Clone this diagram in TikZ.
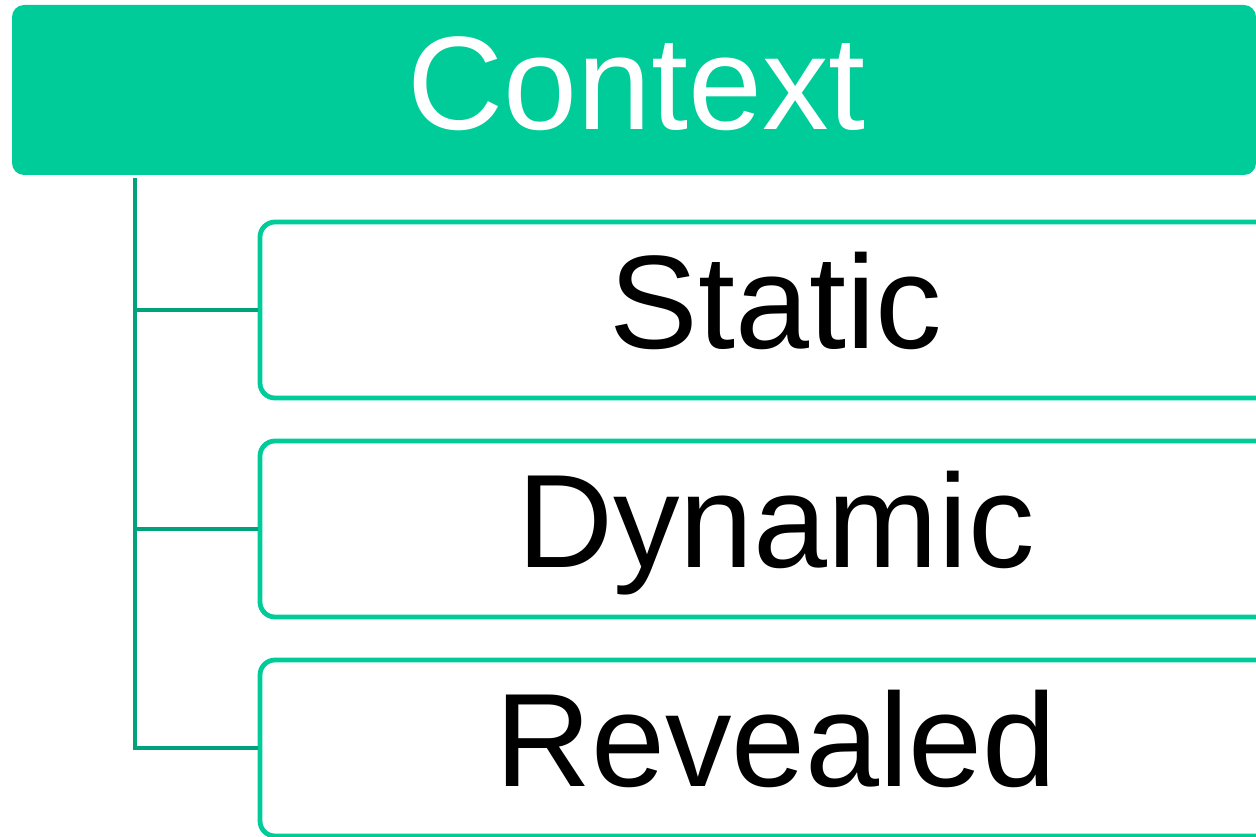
\documentclass[tikz,border=0pt]{standalone}
\usepackage{fontspec}
\setmainfont{Liberation Sans}
\definecolor{mint}{HTML}{00CC99}
\definecolor{darkmint}{HTML}{00A27B}
\begin{document}
\begin{tikzpicture}[x=1pt,y=-1pt,
  topbox/.style={draw=none,fill=mint,rounded corners=12pt,inner sep=0pt,
    minimum width=1244pt,minimum height=170pt,text=white,
    font=\fontsize{133}{133}\selectfont,text height=125pt,text depth=45pt},
  childbox/.style={draw=mint,line width=4.8pt,rounded corners=15pt,inner sep=0pt,
    minimum width=1032pt,minimum height=176pt,text=black,
    font=\fontsize{133}{133}\selectfont,text height=126pt,text depth=50pt},
  link/.style={draw=darkmint,line width=4.5pt}]
\useasboundingbox (0,0) rectangle (1256,837);
\clip (0,0) rectangle (1256,837);
\node[topbox] (ctx) at (634,90) {\hspace*{5pt}Context};
\node[childbox] (st) at (776,310) {Static};
\node[childbox] (dy) at (776,529) {Dynamic};
\node[childbox] (rv) at (776,748) {Revealed};
\coordinate (top) at (135,178);
\coordinate (bend) at (135,748);
\draw[link] (top) -- (bend) -- (rv.west);
\draw[link] (st.west -| top) -- (st.west);
\draw[link] (dy.west -| top) -- (dy.west);
\end{tikzpicture}
\end{document}
